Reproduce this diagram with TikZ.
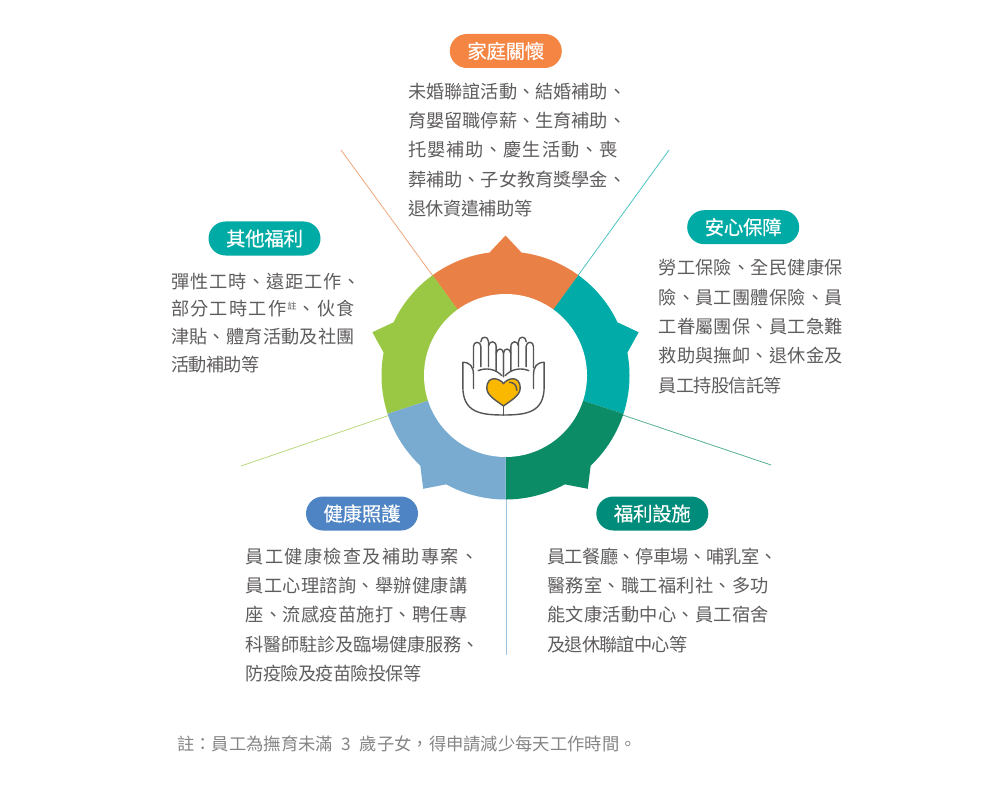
\documentclass[tikz,border=0pt]{standalone}
\usepackage{fontspec}
\usetikzlibrary{shapes.misc}
\newfontfamily\cjk{Noto Sans CJK TC}
\newfontfamily\cjkm[FakeBold=0.35]{Noto Sans CJK TC}
\definecolor{corange}{HTML}{E98046}
\definecolor{cteal}{HTML}{00ABA8}
\definecolor{cgreen}{HTML}{0B8C67}
\definecolor{cblue}{HTML}{78ABCF}
\definecolor{clime}{HTML}{9AC844}
\definecolor{rorange}{HTML}{F0A67D}
\definecolor{rteal}{HTML}{4DC4C2}
\definecolor{rgreen}{HTML}{55AF95}
\definecolor{rblue}{HTML}{9CC2DD}
\definecolor{rlime}{HTML}{B8D97C}
\definecolor{porange}{HTML}{F58543}
\definecolor{pteal}{HTML}{00ABA5}
\definecolor{pblue}{HTML}{4F84C4}
\definecolor{pgreen}{HTML}{008C7A}
\definecolor{bodytext}{HTML}{5F5C5C}
\definecolor{notetext}{HTML}{858585}
\definecolor{iconline}{HTML}{555555}
\definecolor{heartfill}{HTML}{FBB800}
\makeatletter
\newif\ifjlrest
\newcommand\jl[2]{\hbox to #1pt{\jlrestfalse\@tfor\jlch:=#2\do{\ifjlrest\hss\fi\jlresttrue\jlch}}}
\makeatother
\newcommand\sutext{\raisebox{6pt}{\fontsize{9}{9}\selectfont 註}}
\tikzset{
  x=1pt,y=1pt,
  pill/.style={rounded rectangle,minimum width=112pt,minimum height=34pt,inner sep=0pt,text=white,font=\cjkm\fontsize{19.5}{19.5}\selectfont},
  bodyblock/.style={anchor=north west,inner sep=0pt,align=left,text=bodytext,font=\cjk\fontsize{18.2}{29.4}\selectfont},
  tightblock/.style={bodyblock,font=\cjk\fontsize{18.2}{27.9}\selectfont},
  ray/.style={line width=0.8pt},
  iconstroke/.style={draw=iconline,line width=1.4pt,line cap=round,line join=round}
}
\begin{document}
\begin{tikzpicture}
\useasboundingbox (0,-786) rectangle (1000,0);
\coordinate (c) at (505.5,-375.5);
% rays
\coordinate (e1) at (341,-150);
\coordinate (e2) at (669,-150);
\coordinate (e3) at (771,-465);
\coordinate (s4) at (506,-375.5);
\coordinate (e4) at (506,-655);
\coordinate (e5) at (241,-466);
\draw[ray,rorange] (c) -- (e1);
\draw[ray,rteal] (c) -- (e2);
\draw[ray,rgreen] (c) -- (e3);
\draw[line width=1pt,rblue] (s4) -- (e4);
\draw[ray,rlime] (c) -- (e5);
% sectors
\begin{scope}[shift={(c)}]
\foreach \a/\col in {54/corange,-18/cteal,-90/cgreen,126/clime,-162/cblue}{
  \pgfmathsetmacro\aa{\a+28.6}
  \pgfmathsetmacro\ab{\a+36}
  \pgfmathsetmacro\ac{\a+43.4}
  \pgfmathsetmacro\ad{\a+72}
  \fill[\col] (0,0) -- (\a:124pt) arc[start angle=\a,end angle=\aa,radius=124pt]
    -- (\ab:140pt) -- (\ac:124pt) arc[start angle=\ac,end angle=\ad,radius=124pt] -- cycle;
}
\end{scope}
\node[circle,fill=white,minimum size=163pt,inner sep=0pt] (hub) at (c) {};
% icon
\begin{scope}[shift={(503.5,-325)}]
\foreach \m in {1,-1}{
\begin{scope}[x=\m*0.3333pt,y=-0.3333pt]
  \draw[iconstroke] (0,270) .. controls (-70,270) and (-122,262) .. (-122,185) -- (-122,112)
     .. controls (-100,112) and (-90,125) .. (-90,150) -- (-90,190);
  \draw[iconstroke] (-90,128) -- (-90,64) .. controls (-90,48) and (-68,48) .. (-68,64) -- (-68,125);
  \draw[iconstroke] (-68,50) .. controls (-68,32) and (-45,32) .. (-45,50) -- (-45,125);
  \draw[iconstroke] (-45,62) .. controls (-42,46) and (-22,46) .. (-22,66) -- (-22,138);
  \draw[iconstroke] (-22,85) .. controls (-20,68) and (0,68) .. (0,85) -- (0,155);
  \draw[iconstroke] (-76,137) .. controls (-55,128) and (-25,130) .. (-5,152);
  \draw[iconstroke] (0,243) -- (0,270);
\end{scope}}
\begin{scope}[x=0.3333pt,y=-0.3333pt]
  \filldraw[iconstroke,fill=heartfill] (0,176) .. controls (-10,160) and (-50,148) .. (-50,190)
    .. controls (-50,212) and (-20,228) .. (0,243)
    .. controls (20,228) and (50,212) .. (50,190)
    .. controls (50,148) and (10,160) .. (0,176) -- cycle;
  \draw[iconstroke] (18,172) .. controls (30,172) and (40,180) .. (40,196);
\end{scope}
\end{scope}
% pills
\node[pill,fill=porange] (p1) at (505.8,-51) {\jl{77}{家庭關懷}};
\node[pill,fill=pteal] (p2) at (743.2,-227.2) {\jl{77}{安心保障}};
\node[pill,fill=pgreen] (p3) at (652.3,-513.5) {\jl{77}{福利設施}};
\node[pill,fill=pblue] (p4) at (362,-513.5) {\jl{77}{健康照護}};
\node[pill,fill=pteal] (p5) at (264.5,-238.5) {\jl{77}{其他福利}};
% body text
\node[bodyblock] (t1) at (408,-82.5) {\jl{218}{未婚聯誼活動、結婚補助、}\\\jl{218}{育嬰留職停薪、生育補助、}\\\jl{209.5}{托嬰補助、慶生活動、喪}\\\jl{218}{葬補助、子女教育獎學金、}\\\jl{124}{退休資遣補助等}};
\node[bodyblock] (t2) at (658.5,-259) {\jl{184}{勞工保險、全民健康保}\\\jl{184}{險、員工團體保險、員}\\\jl{184}{工眷屬團保、員工急難}\\\jl{184}{救助與撫卹、退休金及}\\\jl{123}{員工持股信託等}};
\node[bodyblock] (t3) at (547,-547.5) {\jl{230}{員工餐廳、停車場、哺乳室、}\\\jl{222}{醫務室、職工福利社、多功}\\\jl{222}{能文康活動中心、員工宿舍}\\\jl{140}{及退休聯誼中心等}};
\node[bodyblock] (t4) at (245.5,-547.5) {\jl{233}{員工健康檢查及補助專案、}\\\jl{221.7}{員工心理諮詢、舉辦健康講}\\\jl{221.7}{座、流感疫苗施打、聘任專}\\\jl{233.6}{科醫師駐診及臨場健康服務、}\\\jl{175.7}{防疫險及疫苗險投保等}};
\node[tightblock] (t5) at (171,-272.5) {\jl{190}{彈性工時、遠距工作、}\\\jl{183.5}{部分工時工作{\sutext}、伙食}\\\jl{183.5}{津貼、體育活動及社團}\\\jl{88}{活動補助等}};
% footnote
\node[anchor=west,inner sep=0pt,text=notetext,font=\cjk\fontsize{17.3}{20}\selectfont] (note) at (177,-744) {註：員工為撫育未滿\hspace{0.5em}3\hspace{0.5em}歲子女，得申請減少每天工作時間。};
\end{tikzpicture}
\end{document}
